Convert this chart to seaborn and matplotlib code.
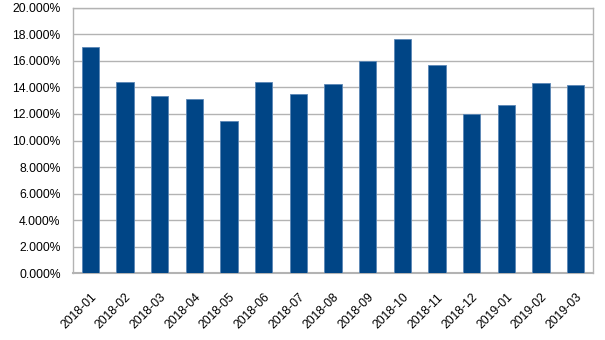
import matplotlib
matplotlib.use("Agg")
import matplotlib.pyplot as plt
import seaborn as sns
import pandas as pd
import numpy as np
from matplotlib.ticker import FuncFormatter, FixedLocator

months = ["2018-01", "2018-02", "2018-03", "2018-04", "2018-05", "2018-06", "2018-07",
          "2018-08", "2018-09", "2018-10", "2018-11", "2018-12", "2019-01", "2019-02", "2019-03"]
rates = [17.06, 14.41, 13.33, 13.12, 11.44, 14.38, 13.50,
         14.23, 15.96, 17.67, 15.66, 11.97, 12.70, 14.35, 14.15]
yticks = [0, 2, 4, 6, 8, 10, 12, 14, 16, 18, 20]

sns.set_style("white")
plt.rcParams['font.family'] = ['Liberation Sans', 'DejaVu Sans']

df = pd.DataFrame({"month": months, "rate": rates})

fig = plt.figure(figsize=(6.05, 3.4), dpi=100)
ax = fig.add_axes([73/605, 1-273.3/340, (593-73)/605, (273.3-7.7)/340])

sns.barplot(data=df, x="month", y="rate", color="#004586", width=0.5,
            saturation=1, edgecolor="#5b86b5", linewidth=0.6, ax=ax, zorder=3)

ax.set_ylim(0, 20)
ax.set_xlim(-0.5, len(months) - 0.5)
ax.set_yticks(yticks)
ax.yaxis.set_major_formatter(FuncFormatter(lambda v, p: f"{v:.3f}%"))
ax.grid(axis="y", color="#b3b3b3", linewidth=1, zorder=0)
ax.set_axisbelow(True)
ax.set_xlabel("")
ax.set_ylabel("")

ax.tick_params(axis="y", length=6, width=1, color="#b3b3b3", pad=3, labelsize=8.7, labelcolor="#000000")
ax.set_xticks(range(len(months)))
ax.set_xticklabels(months, rotation=45, ha="right", rotation_mode="anchor")
ax.tick_params(axis="x", which="major", length=0, pad=13, labelsize=8.7, labelcolor="#000000")
ax.xaxis.set_minor_locator(FixedLocator(np.arange(-0.5, len(months), 1.0)))
ax.tick_params(axis="x", which="minor", length=5, width=1, color="#b3b3b3", direction="out")

for side in ["left", "right", "top", "bottom"]:
    ax.spines[side].set_visible(True)
    ax.spines[side].set_color("#b3b3b3")
    ax.spines[side].set_linewidth(1)
ax.spines["bottom"].set_linewidth(1.5)

fig.savefig("out.png", dpi=100)
